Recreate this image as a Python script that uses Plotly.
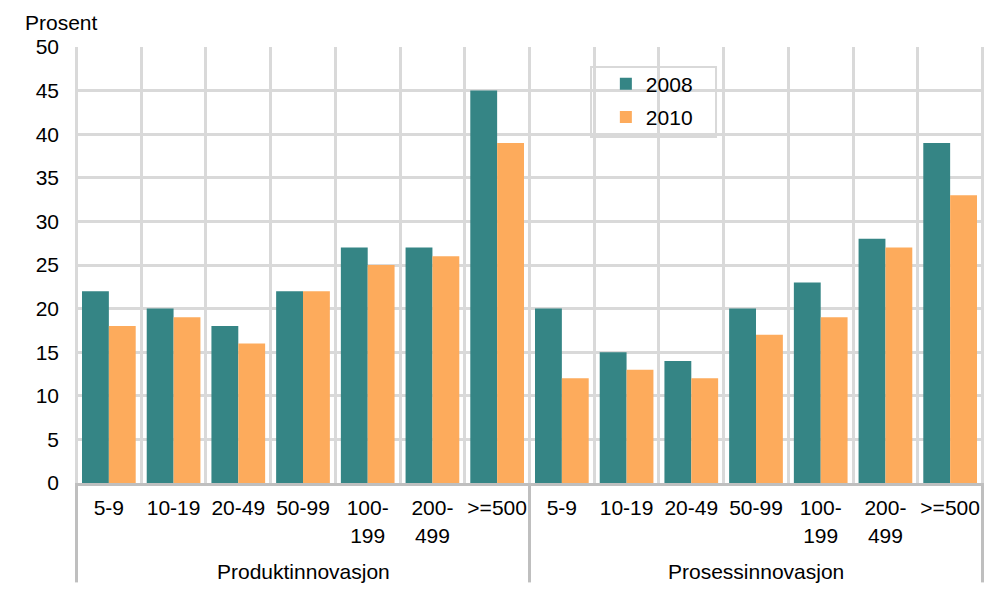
import plotly.graph_objects as go

group_names = ["Produktinnovasjon", "Prosessinnovasjon"]
size_labels = ["5-9", "10-19", "20-49", "50-99", "100-<br>199", "200-<br>499", ">=500"]
v2008 = [22, 20, 18, 22, 27, 27, 45, 20, 15, 14, 20, 23, 28, 39]
v2010 = [18, 19, 16, 22, 25, 26, 39, 12, 13, 12, 17, 19, 27, 33]

# unique category keys (group + size) with display text = size label
cats = [f"{g}|{s}" for g in group_names for s in size_labels]
ticktext = [s for g in group_names for s in size_labels]
n = len(size_labels)

FONT = "Liberation Sans, Arial, sans-serif"
FS = 21
AXIS_GRAY = "#bfbfbf"
GRID_GRAY = "#d9d9d9"

fig = go.Figure()
fig.add_trace(go.Bar(x=cats, y=v2008, name="2008", marker_color="#358585",
                     marker_line_width=0, legendgroup="a"))
fig.add_trace(go.Bar(x=cats, y=v2010, name="2010", marker_color="#FDAB5C",
                     marker_line_width=0, legendgroup="b"))

shapes = [dict(type="rect", xref="paper", yref="paper", x0=0.5677, x1=0.7052,
               y0=0.7936, y1=0.9541, line=dict(color=GRID_GRAY, width=2),
               fillcolor="white", layer="below")]
# group dividers below the axis
for k in range(len(group_names) + 1):
    shapes.append(dict(type="line", xref="x", yref="paper", x0=k * n - 0.5, x1=k * n - 0.5,
                       y0=0, y1=-0.228, line=dict(color=AXIS_GRAY, width=3)))

annotations = [dict(text="Prosent", xref="paper", yref="paper", x=0, y=1.0,
                    xanchor="left", yanchor="middle", xshift=-52, yshift=25,
                    showarrow=False, font=dict(size=FS))]
for i, g in enumerate(group_names):
    annotations.append(dict(text=g, xref="x", yref="paper", x=i * n + (n - 1) / 2, y=0,
                            yanchor="middle", yshift=-88, showarrow=False,
                            font=dict(size=FS)))

fig.update_layout(
    width=985, height=597,
    margin=dict(l=75, r=1, t=47, b=114),
    paper_bgcolor="white", plot_bgcolor="white",
    font=dict(family=FONT, size=FS, color="black"),
    barmode="group", bargap=0.17, bargroupgap=0,
    legend=dict(x=0.584, y=0.962, xanchor="left", yanchor="top",
                bgcolor="rgba(0,0,0,0)", borderwidth=0,
                font=dict(size=FS), tracegroupgap=3, itemwidth=30),
    xaxis=dict(type="category", categoryorder="array", categoryarray=cats,
               tickvals=cats, ticktext=ticktext,
               showgrid=True, gridcolor=GRID_GRAY, gridwidth=3,
               showline=True, linecolor=AXIS_GRAY, linewidth=3,
               ticks="", tickson="boundaries", tickangle=0, automargin=False,
               ticklabelstandoff=4),
    yaxis=dict(range=[0, 50], dtick=5, showgrid=True, gridcolor=GRID_GRAY, gridwidth=3,
               zeroline=False, showline=False, ticks="", ticklabelstandoff=15,
               automargin=False),
    shapes=shapes,
    annotations=annotations,
)

fig.write_html("out.html", config={"displayModeBar": False},
               post_script="document.body.style.margin='0';")
